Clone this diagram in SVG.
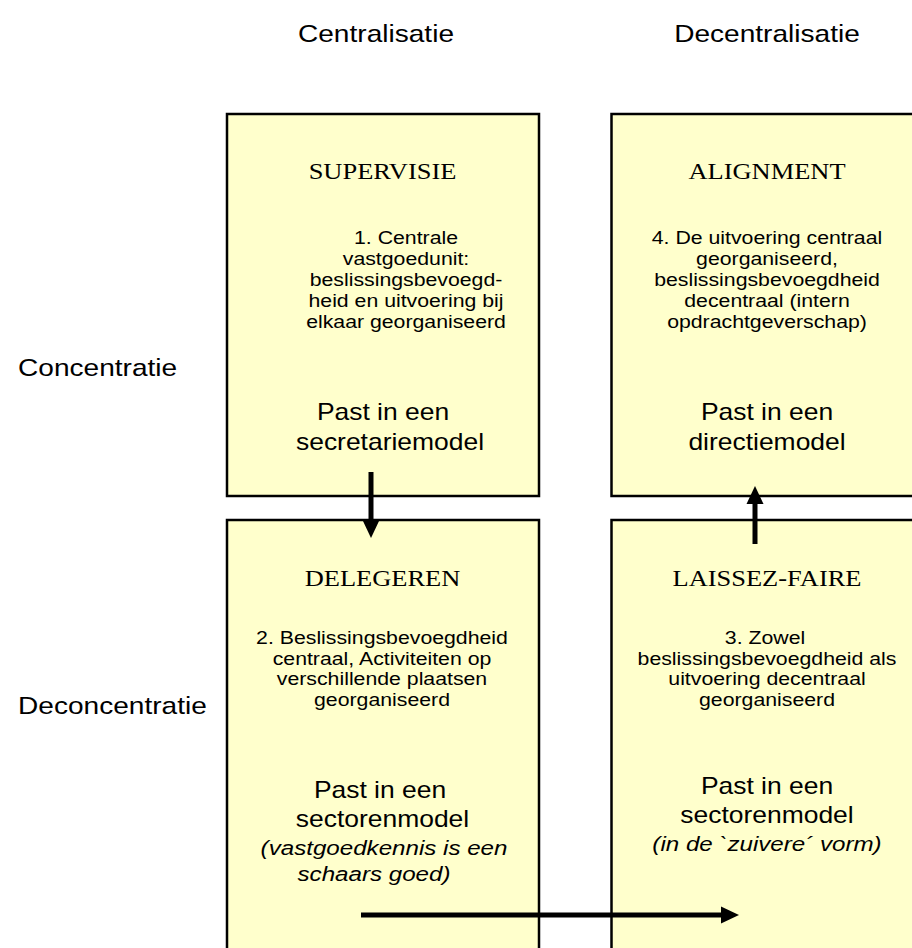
<svg xmlns="http://www.w3.org/2000/svg" width="912" height="948" viewBox="0 0 912 948">
<style>
.box{fill:#FFFFCC;stroke:#000;stroke-width:2.5}
.lbl{font-family:"Liberation Sans",Arial,sans-serif;font-size:24px;fill:#000}
.hd{font-family:"Liberation Serif","Times New Roman",serif;font-size:23px;fill:#000;text-anchor:middle}
.bd{font-family:"Liberation Sans",Arial,sans-serif;font-size:18.5px;fill:#000;text-anchor:middle}
.big{font-family:"Liberation Sans",Arial,sans-serif;font-size:23px;fill:#000;text-anchor:middle}
.it{font-family:"Liberation Sans",Arial,sans-serif;font-size:21px;font-style:italic;fill:#000;text-anchor:middle}
.arr{stroke:#000;stroke-width:5;fill:none;marker-end:url(#ah)}
</style>
<defs>
<marker id="ah" markerUnits="userSpaceOnUse" markerWidth="18" markerHeight="18" refX="8" refY="9" orient="auto">
<path d="M0,0.5 L18,9 L0,17.5 z" fill="#000"/>
</marker>
</defs>
<g id="labels">
<text class="lbl" text-anchor="middle" transform="translate(376 42) scale(1.17 1)">Centralisatie</text>
<text class="lbl" text-anchor="middle" transform="translate(767 42) scale(1.17 1)">Decentralisatie</text>
<text class="lbl" transform="translate(18 376) scale(1.17 1)">Concentratie</text>
<text class="lbl" transform="translate(18 714) scale(1.17 1)">Deconcentratie</text>
</g>
<g id="supervisie">
<rect class="box" x="227" y="114" width="312" height="382"/>
<text class="hd" transform="translate(382.5 179) scale(1.15 1)">SUPERVISIE</text>
<text class="bd" transform="translate(406 244) scale(1.15 1)">1. Centrale</text>
<text class="bd" transform="translate(406 265) scale(1.15 1)">vastgoedunit:</text>
<text class="bd" transform="translate(406 286) scale(1.15 1)">beslissingsbevoegd-</text>
<text class="bd" transform="translate(406 307) scale(1.15 1)">heid en uitvoering bij</text>
<text class="bd" transform="translate(406 328) scale(1.15 1)">elkaar georganiseerd</text>
<text class="big" transform="translate(383 420) scale(1.15 1)">Past in een</text>
<text class="big" transform="translate(390 450) scale(1.15 1)">secretariemodel</text>
</g>
<g id="alignment">
<rect class="box" x="611.5" y="114" width="320" height="382"/>
<text class="hd" transform="translate(767 179) scale(1.15 1)">ALIGNMENT</text>
<text class="bd" transform="translate(767 244) scale(1.15 1)">4. De uitvoering centraal</text>
<text class="bd" transform="translate(767 265) scale(1.15 1)">georganiseerd,</text>
<text class="bd" transform="translate(767 286) scale(1.15 1)">beslissingsbevoegdheid</text>
<text class="bd" transform="translate(767 307) scale(1.15 1)">decentraal (intern</text>
<text class="bd" transform="translate(767 328) scale(1.15 1)">opdrachtgeverschap)</text>
<text class="big" transform="translate(767 420) scale(1.15 1)">Past in een</text>
<text class="big" transform="translate(767 450) scale(1.15 1)">directiemodel</text>
</g>
<g id="delegeren">
<rect class="box" x="227" y="520" width="312" height="440"/>
<text class="hd" transform="translate(382.5 586) scale(1.15 1)">DELEGEREN</text>
<text class="bd" transform="translate(382 644) scale(1.15 1)">2. Beslissingsbevoegdheid</text>
<text class="bd" transform="translate(382 664.5) scale(1.15 1)">centraal, Activiteiten op</text>
<text class="bd" transform="translate(382 685) scale(1.15 1)">verschillende plaatsen</text>
<text class="bd" transform="translate(382 705.5) scale(1.15 1)">georganiseerd</text>
<text class="big" transform="translate(380 798) scale(1.15 1)">Past in een</text>
<text class="big" transform="translate(382.5 827) scale(1.15 1)">sectorenmodel</text>
<text class="it" transform="translate(384 855) scale(1.15 1)">(vastgoedkennis is een</text>
<text class="it" transform="translate(374 881) scale(1.15 1)">schaars goed)</text>
</g>
<g id="laissez-faire">
<rect class="box" x="611.5" y="520" width="320" height="440"/>
<text class="hd" transform="translate(767 586) scale(1.15 1)">LAISSEZ-FAIRE</text>
<text class="bd" transform="translate(765 644) scale(1.15 1)">3. Zowel</text>
<text class="bd" transform="translate(767 664.5) scale(1.15 1)">beslissingsbevoegdheid als</text>
<text class="bd" transform="translate(767 685) scale(1.15 1)">uitvoering decentraal</text>
<text class="bd" transform="translate(767 705.5) scale(1.15 1)">georganiseerd</text>
<text class="big" transform="translate(767 794) scale(1.15 1)">Past in een</text>
<text class="big" transform="translate(767 823) scale(1.15 1)">sectorenmodel</text>
<text class="it" transform="translate(767 851) scale(1.15 1)">(in de `zuivere´ vorm)</text>
</g>
<g id="connectors">
<path class="arr" d="M371,472 L371,528"/>
<path class="arr" d="M755,544 L755,496"/>
<path class="arr" d="M361,915 L729,915"/>
</g>
</svg>
